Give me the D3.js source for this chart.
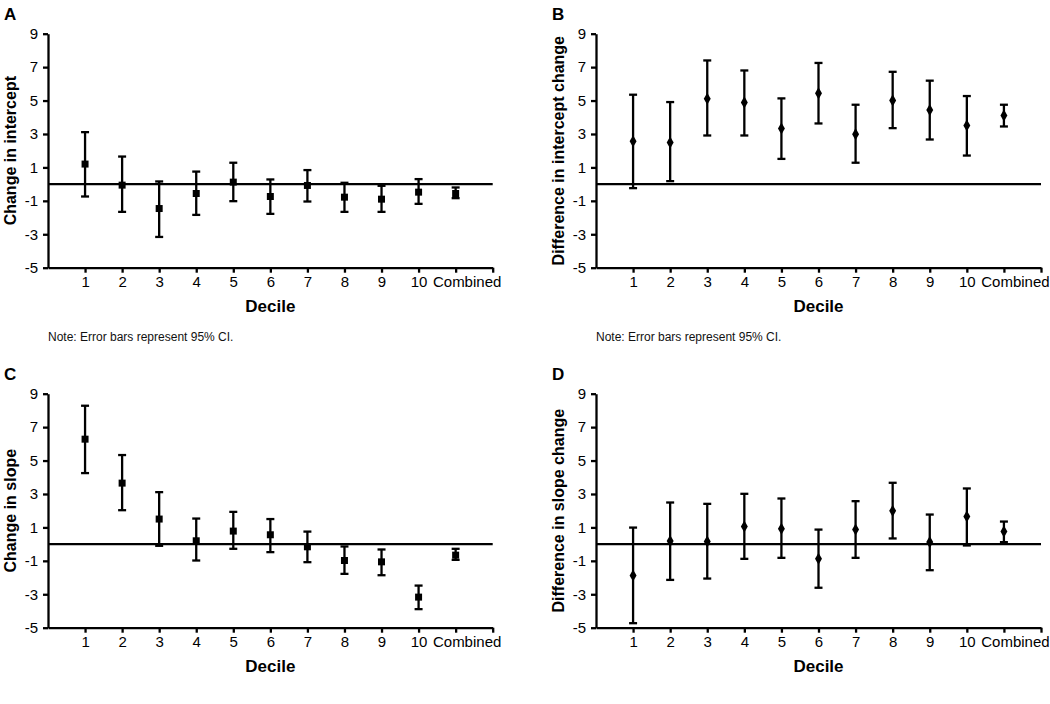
<!DOCTYPE html>
<html><head><meta charset="utf-8">
<script src="https://cdn.jsdelivr.net/npm/d3@7"></script>
<style>
html,body{margin:0;padding:0;background:#fff;}
svg{display:block;font-family:"Liberation Sans",Arial,Helvetica,sans-serif;}
</style></head>
<body>
<svg id="chart" width="1050" height="704"></svg>
<script>
const categories = ["1","2","3","4","5","6","7","8","9","10","Combined"];
const yTicks = [9,7,5,3,1,-1,-3,-5];

const aEst = [1.2,-0.06,-1.46,-0.56,0.12,-0.74,-0.08,-0.78,-0.9,-0.48,-0.56];
const aLo  = [-0.74,-1.66,-3.16,-1.84,-1.02,-1.78,-1.04,-1.66,-1.66,-1.18,-0.84];
const aHi  = [3.11,1.65,0.16,0.75,1.28,0.28,0.84,0.08,-0.1,0.3,-0.2];

const bEst = [2.57,2.49,5.11,4.89,3.33,5.43,2.99,5.01,4.43,3.51,4.11];
const bLo  = [-0.24,0.18,2.91,2.91,1.51,3.63,1.28,3.35,2.67,1.71,3.45];
const bHi  = [5.35,4.91,7.4,6.8,5.13,7.25,4.75,6.72,6.19,5.27,4.75];

const cEst = [6.28,3.65,1.5,0.2,0.78,0.56,-0.16,-0.98,-1.06,-3.17,-0.66];
const cLo  = [4.25,2.03,-0.1,-0.98,-0.28,-0.48,-1.08,-1.78,-1.86,-3.89,-0.94];
const cHi  = [8.28,5.33,3.11,1.53,1.93,1.5,0.75,-0.14,-0.32,-2.48,-0.28];

const dEst = [-1.88,0.18,0.16,1.05,0.92,-0.88,0.87,1.99,0.12,1.65,0.75];
const dLo  = [-4.73,-2.14,-2.06,-0.88,-0.82,-2.61,-0.82,0.34,-1.56,-0.08,0.12];
const dHi  = [0.99,2.49,2.41,3.01,2.73,0.87,2.57,3.67,1.77,3.33,1.35];

const panels = [
  {label:"A", ytitle:"Change in intercept", est:aEst, lo:aLo, hi:aHi, shape:"square",
   left:48, right:492.7, top:33.7, bottom:267.7, note:true},
  {label:"B", ytitle:"Difference in intercept change", est:bEst, lo:bLo, hi:bHi, shape:"diamond",
   left:596, right:1041, top:33.7, bottom:267.7, note:true},
  {label:"C", ytitle:"Change in slope", est:cEst, lo:cLo, hi:cHi, shape:"square",
   left:48, right:492.7, top:393.7, bottom:627.7, note:false},
  {label:"D", ytitle:"Difference in slope change", est:dEst, lo:dLo, hi:dHi, shape:"diamond",
   left:596, right:1041, top:393.7, bottom:627.7, note:false}
];

const svg = d3.select("#chart");
const SW = 2.3;

panels.forEach(p => {
  const g = svg.append("g");
  const x = d3.scaleLinear().domain([0, categories.length + 1]).range([p.left, p.right]);
  const y = d3.scaleLinear().domain([-5, 9]).range([p.bottom, p.top]);

  // x axis
  const xAxis = d3.axisBottom(x)
    .tickValues(d3.range(1, categories.length + 2))
    .tickFormat(d => categories[d - 1] || "")
    .tickSize(5).tickSizeOuter(0).tickPadding(4);
  const gx = g.append("g").attr("transform", `translate(0,${p.bottom})`).call(xAxis);
  gx.select(".domain").attr("stroke", "#000").attr("stroke-width", SW);
  gx.selectAll(".tick line").attr("stroke", "#000").attr("stroke-width", SW);
  gx.selectAll(".tick text").attr("font-size", 15).attr("fill", "#000")
    .attr("font-family", '"Liberation Sans",Arial,sans-serif')
    .attr("dx", d => d === categories.length ? 11 : 0);

  // y axis
  const yAxis = d3.axisLeft(y).tickValues(yTicks).tickFormat(d => String(d))
    .tickSize(5).tickSizeOuter(0).tickPadding(5);
  const gy = g.append("g").attr("transform", `translate(${p.left},0)`).call(yAxis);
  gy.select(".domain").attr("stroke", "#000").attr("stroke-width", SW);
  gy.selectAll(".tick line").attr("stroke", "#000").attr("stroke-width", SW);
  gy.selectAll(".tick text").attr("font-size", 15).attr("fill", "#000")
    .attr("font-family", '"Liberation Sans",Arial,sans-serif');

  // zero line
  g.append("line")
    .attr("x1", p.left).attr("x2", p.right)
    .attr("y1", y(0)).attr("y2", y(0))
    .attr("stroke", "#000").attr("stroke-width", SW);

  // error bars
  const capW = 4;
  categories.forEach((c, i) => {
    const cx = x(i + 1);
    g.append("line").attr("x1", cx).attr("x2", cx)
      .attr("y1", y(p.lo[i])).attr("y2", y(p.hi[i]))
      .attr("stroke", "#000").attr("stroke-width", SW);
    [p.lo[i], p.hi[i]].forEach(v => {
      g.append("line").attr("x1", cx - capW).attr("x2", cx + capW)
        .attr("y1", y(v)).attr("y2", y(v))
        .attr("stroke", "#000").attr("stroke-width", SW);
    });
    const sym = p.shape === "square"
      ? d3.symbol().type(d3.symbolSquare).size(49)
      : d3.symbol().type(d3.symbolDiamond).size(42);
    g.append("path").attr("d", sym())
      .attr("transform", `translate(${cx},${y(p.est[i])})`)
      .attr("fill", "#000");
  });

  // panel label
  g.append("text").attr("x", p.left - 44).attr("y", p.top - 14)
    .attr("font-size", 17).attr("font-weight", "bold").text(p.label);

  // y title
  const cy = (p.top + p.bottom) / 2;
  g.append("text")
    .attr("transform", `translate(${p.left - 32},${cy}) rotate(-90)`)
    .attr("text-anchor", "middle").attr("font-size", 16).attr("font-weight", "bold")
    .text(p.ytitle);

  // x title
  g.append("text").attr("x", (p.left + p.right) / 2).attr("y", p.bottom + 44)
    .attr("text-anchor", "middle").attr("font-size", 17).attr("font-weight", "bold")
    .text("Decile");

  if (p.note) {
    g.append("text").attr("x", p.left).attr("y", p.bottom + 73)
      .attr("font-size", 12).attr("fill", "#111")
      .text("Note: Error bars represent 95% CI.");
  }
});
</script>
</body></html>
